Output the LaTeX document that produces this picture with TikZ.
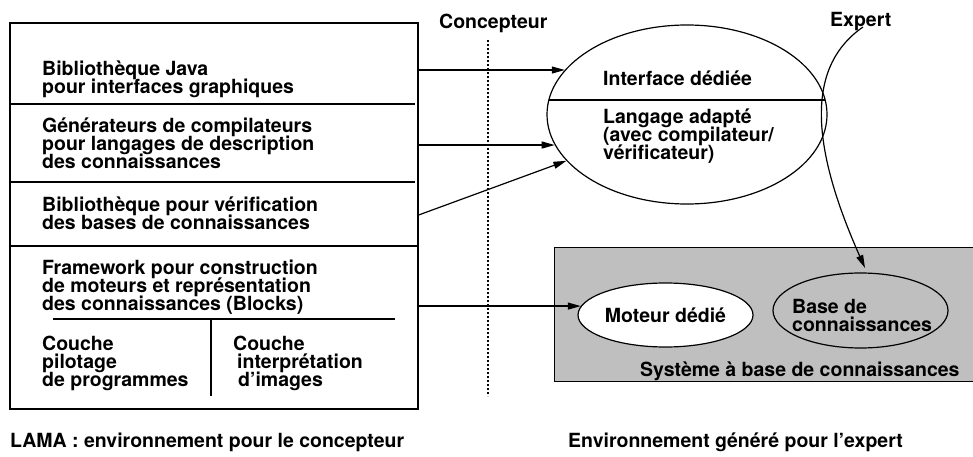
\documentclass[tikz,border=0pt]{standalone}
\usepackage{fontspec}
\setmainfont{TeX Gyre Heros}
\usetikzlibrary{arrows.meta,shapes.geometric,calc}
\definecolor{kbgray}{RGB}{191,191,191}
% bold label font with a fixed line pitch
\protected\def\lblfont{\fontsize{19.5}{18}\selectfont\bfseries\lineskiplimit=-20pt\relax\lineskip=0pt\relax}
\begin{document}
\begin{tikzpicture}[x=1pt,y=-1pt,
  every node/.style={font=\lblfont, inner sep=0pt},
  % multi-line labels are placed by the baseline of their last line
  lbl/.style={anchor=base west, align=left},
  frame/.style={draw, line width=1.3pt},
  rule/.style={line width=1.2pt},
  arr/.style={line width=1.2pt, -{Triangle[length=13pt,width=7pt]}},
]
\useasboundingbox (0,0) rectangle (973,457);
\clip (0,0) rectangle (973,457);

% --- LAMA: the designer's environment -------------------------------
\node[frame, minimum width=408pt, minimum height=386pt] (lama) at (214,216) {};
\draw[rule] (lama.west |- 0,104) -- (415,104);
\draw[rule] (lama.west |- 0,182) -- (415,182);
\draw[rule] (lama.west |- 0,246) -- (lama.east |- 0,246);
\draw[rule] (53,319) -- (395,319);
\draw[rule] (211,319) -- (211,396);

\node[lbl] (javalib) at (42,93.5) {Bibliothèque Java\\pour interfaces graphiques};
\node[lbl] (compgen) at (42,168.3) {Générateurs de compilateurs\\pour langages de description\\des connaissances};
\node[lbl] (verif) at (42,229.3) {Bibliothèque pour vérification\\des bases de connaissances};
\node[lbl] (blocks) at (42,310) {Framework pour construction\\de moteurs et représentation\\des connaissances (Blocks)};
\node[lbl] (pilot) at (42,386.5) {Couche\\pilotage\\de programmes};
\node[lbl] (interp) at (233,386.5) {Couche\\\hspace{4pt}interprétation\\\hspace{5pt}d’images};

\node[lbl] (lamacap) at (10,447) {LAMA : environnement pour le concepteur};

% --- roles ---------------------------------------------------------
\node[lbl] (concepteur) at (439,29) {Concepteur};
\node[lbl] (expert) at (830,27) {Expert};
\draw[line width=1.2pt, dash pattern=on 2pt off 2pt] (488,40) -- (488,396);

% --- generated environment for the expert ---------------------------
\node[draw, ellipse, line width=1.2pt, minimum width=280pt, minimum height=179pt] (ell) at (687,114.5) {};
\draw[rule] (548.8,100) -- (825.2,100);
\node[lbl] (iface) at (603,86) {Interface dédiée};
\node[lbl] (lang) at (603,160) {Langage adapté\\(avec compilateur/\\vérificateur)};

\node[draw, fill=kbgray, line width=1.2pt, minimum width=430pt, minimum height=134pt, anchor=north west] (kbs) at (554,247) {};
\node[draw, ellipse, fill=white, line width=1.2pt, minimum width=175pt, minimum height=64pt] (mot) at (665.5,315) {Moteur dédié};
\node[draw, ellipse, line width=1.2pt, minimum width=175pt, minimum height=75pt] (kb) at (860.5,310.5) {};
\node[lbl] (kbtext) at (792,331.7) {Base de\\connaissances};
\node[lbl] (kbscap) at (640,376.5) {Système à base de connaissances};

\node[lbl] (envcap) at (568,447) {Environnement généré pour l’expert};

% --- connectors ----------------------------------------------------
\draw[arr] (lama.east |- ell.160) -- (ell.160);
\draw[arr] (lama.east |- ell.193) -- (ell.193);
\draw[arr] (lama.east |- 0,215) -- (ell.201);
\draw[arr] (lama.east |- mot.174) -- (mot.174);

\coordinate (xpen) at (863,27);
\coordinate (kbtip) at (865,268);
\draw[arr] (xpen) .. controls (808,65) and (808,140) .. (kbtip);
\end{tikzpicture}
\end{document}
